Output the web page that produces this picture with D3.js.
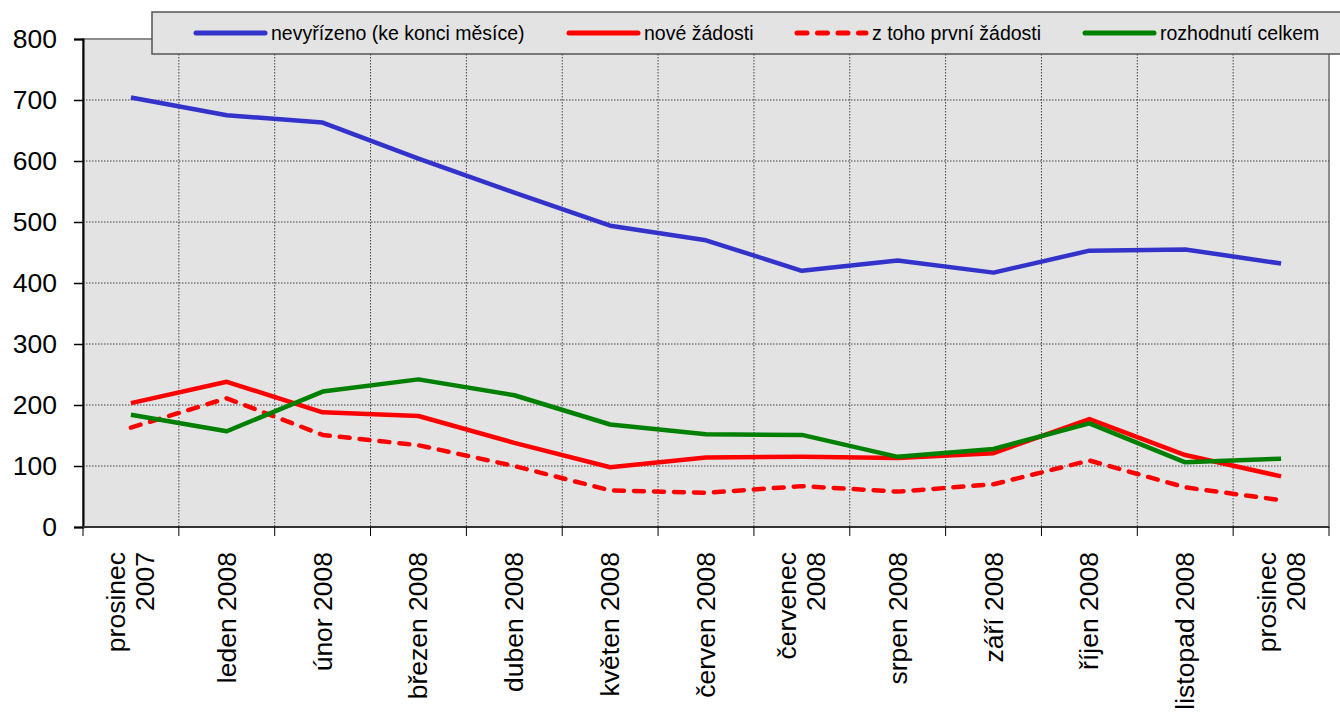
<!DOCTYPE html>
<html>
<head>
<meta charset="utf-8">
<script src="https://cdnjs.cloudflare.com/ajax/libs/d3/7.8.5/d3.min.js"></script>
<style>
  body { margin: 0; background: #fff; }
  text { font-family: "Liberation Sans", Arial, sans-serif; fill: #000; }
</style>
</head>
<body>
<script>
// data
var months = [
  ["prosinec", "2007"], ["leden 2008"], ["únor 2008"], ["březen 2008"],
  ["duben 2008"], ["květen 2008"], ["červen 2008"], ["červenec", "2008"],
  ["srpen 2008"], ["září 2008"], ["říjen 2008"], ["listopad 2008"],
  ["prosinec", "2008"]
];
var nevyrizeno = [704, 675, 663, 604, 548, 494, 470, 420, 437, 417, 453, 455, 432];
var noveZadosti = [203, 238, 188, 182, 138, 98, 114, 115, 113, 121, 177, 118, 83];
var prvniZadosti = [163, 211, 151, 134, 100, 60, 56, 67, 58, 70, 109, 65, 44];
var rozhodnuti = [184, 157, 222, 242, 216, 168, 152, 151, 115, 128, 170, 106, 112];
var yTicks = [0, 100, 200, 300, 400, 500, 600, 700, 800];

var series = [
  { name: "nevyřízeno (ke konci měsíce)", values: nevyrizeno, color: "#3333cc", dash: null },
  { name: "nové žádosti", values: noveZadosti, color: "#ff0000", dash: null },
  { name: "z toho první žádosti", values: prvniZadosti, color: "#ff0000", dash: "10,10" },
  { name: "rozhodnutí celkem", values: rozhodnuti, color: "#008000", dash: null }
];

var svgWidth = 1340, svgHeight = 713;
var margin = { top: 39, right: 11, bottom: 186, left: 83 };
var width = svgWidth - margin.left - margin.right;
var height = svgHeight - margin.top - margin.bottom;

var svg = d3.select("body").append("svg")
  .attr("width", svgWidth)
  .attr("height", svgHeight);

var chartGroup = svg.append("g")
  .attr("transform", `translate(${margin.left}, ${margin.top})`);

var x = d3.scaleBand()
  .domain(d3.range(months.length))
  .range([0, width]);

var y = d3.scaleLinear()
  .domain([0, 800])
  .range([height, 0]);

// plot background
chartGroup.append("rect")
  .attr("width", width)
  .attr("height", height)
  .attr("fill", "#e3e3e3")
  .attr("stroke", "#8c8c8c")
  .attr("stroke-width", 2);

// grid
chartGroup.selectAll(".hgrid")
  .data(yTicks.slice(1, -1))
  .enter().append("line")
  .attr("x1", 0).attr("x2", width)
  .attr("y1", d => y(d)).attr("y2", d => y(d))
  .attr("stroke", "#444").attr("stroke-width", 1)
  .attr("stroke-dasharray", "1.5,1.5");

chartGroup.selectAll(".vgrid")
  .data(d3.range(1, months.length))
  .enter().append("line")
  .attr("x1", d => x(d)).attr("x2", d => x(d))
  .attr("y1", 0).attr("y2", height)
  .attr("stroke", "#444").attr("stroke-width", 1)
  .attr("stroke-dasharray", "1.5,1.5");

// y axis
var yAxis = d3.axisLeft(y).tickValues(yTicks).tickSize(9).tickPadding(17);
var yG = chartGroup.append("g").call(yAxis);
yG.select(".domain").attr("stroke", "#000").attr("stroke-width", 2);
yG.selectAll(".tick line").attr("stroke", "#000").attr("stroke-width", 1.5);
yG.selectAll("text").attr("font-size", null).attr("font-family", null)
  .style("font-size", "26.5px");

// x axis line and ticks at band boundaries
chartGroup.append("line")
  .attr("x1", 0).attr("x2", width)
  .attr("y1", height).attr("y2", height)
  .attr("stroke", "#333").attr("stroke-width", 2);

chartGroup.selectAll(".xtick")
  .data(d3.range(0, months.length + 1))
  .enter().append("line")
  .attr("x1", d => d === months.length ? width : x(d))
  .attr("x2", d => d === months.length ? width : x(d))
  .attr("y1", height).attr("y2", height + 9)
  .attr("stroke", "#000").attr("stroke-width", 1);

// rotated category labels
var labels = chartGroup.selectAll(".xlabel")
  .data(months)
  .enter().append("text")
  .attr("transform", (d, i) => `translate(${x(i) + x.bandwidth() / 2}, ${height + 25}) rotate(-90)`)
  .attr("text-anchor", "end")
  .style("font-size", "26.5px");

labels.each(function(d) {
  var t = d3.select(this);
  var n = d.length;
  d.forEach(function(line, k) {
    t.append("tspan")
      .attr("x", 0)
      .attr("y", (k - (n - 1) / 2) * 29 + 9)
      .text(line);
  });
});

// lines
var line = d3.line()
  .x((d, i) => x(i) + x.bandwidth() / 2)
  .y(d => y(d));

chartGroup.selectAll(".series")
  .data(series)
  .enter().append("path")
  .attr("d", d => line(d.values))
  .attr("fill", "none")
  .attr("stroke", d => d.color)
  .attr("stroke-width", 4.5)
  .attr("stroke-linejoin", "round")
  .attr("stroke-linecap", d => d.dash ? "round" : "butt")
  .attr("stroke-dasharray", d => d.dash);

// legend
var legend = svg.append("g").attr("transform", "translate(152, 12)");
legend.append("rect")
  .attr("width", 1200)
  .attr("height", 42)
  .attr("fill", "#e3e3e3")
  .attr("stroke", "#555")
  .attr("stroke-width", 1.5);

var legendX = [44, 417, 645, 933];
var items = legend.selectAll(".item")
  .data(series)
  .enter().append("g")
  .attr("transform", (d, i) => `translate(${legendX[i]}, 21)`);

items.append("line")
  .attr("x1", 0).attr("x2", 69)
  .attr("stroke", d => d.color)
  .attr("stroke-width", 5)
  .attr("stroke-linecap", "round")
  .attr("stroke-dasharray", d => d.dash ? "10,10.5" : null);

items.append("text")
  .attr("x", 75)
  .attr("dy", "0.35em")
  .style("font-size", "19.5px")
  .text(d => d.name);
</script>
</body>
</html>
